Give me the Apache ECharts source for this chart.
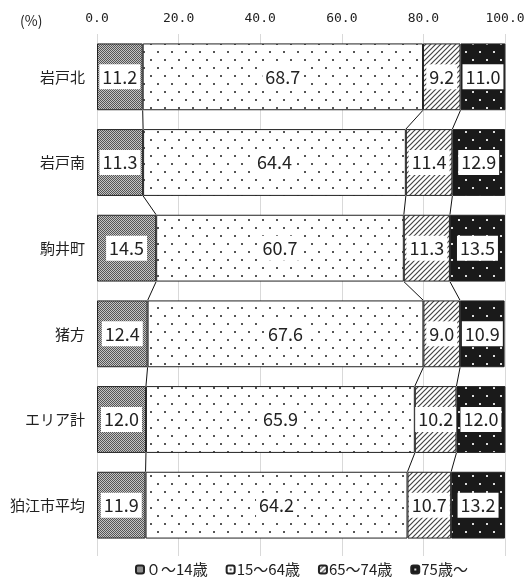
<!DOCTYPE html>
<html>
<head>
<meta charset="utf-8">
<script src="https://cdn.jsdelivr.net/npm/echarts@6/dist/echarts.min.js"></script>
<style>
  html, body { margin: 0; padding: 0; background: #fff; }
  #main { width: 524px; height: 588px; }
</style>
</head>
<body>
<div id="main"></div>
<script>
var areas = ['岩戸北', '岩戸南', '駒井町', '猪方', 'エリア計', '狛江市平均'];
var seriesNames = ['０～14歳', '15～64歳', '65～74歳', '75歳～'];
var age0to14 = [11.2, 11.3, 14.5, 12.4, 12.0, 11.9];
var age15to64 = [68.7, 64.4, 60.7, 67.6, 65.9, 64.2];
var age65to74 = [9.2, 11.4, 11.3, 9.0, 10.2, 10.7];
var age75plus = [11.0, 12.9, 13.5, 10.9, 12.0, 13.2];
var tickLabels = ['0.0', '20.0', '40.0', '60.0', '80.0', '100.0'];

var rows = [age0to14, age15to64, age65to74, age75plus];
var BAR_RATIO = 0.78;

// small canvas tiles for the hatch patterns
function tile(w, h, bg, draw) {
    var c = document.createElement('canvas');
    c.width = w; c.height = h;
    var ctx = c.getContext('2d');
    ctx.fillStyle = bg;
    ctx.fillRect(0, 0, w, h);
    draw(ctx);
    return { image: c, repeat: 'repeat' };
}

var patGrey = tile(2, 2, '#c4c4c4', function (ctx) {
    ctx.fillStyle = '#555';
    ctx.fillRect(0, 0, 1, 1);
    ctx.fillRect(1, 1, 1, 1);
});
var patDots = tile(14, 16, '#ffffff', function (ctx) {
    ctx.fillStyle = '#555';
    ctx.fillRect(3, 3, 2, 2);
    ctx.fillRect(10, 11, 2, 2);
});
var patHatch = tile(5, 5, '#ffffff', function (ctx) {
    ctx.strokeStyle = '#444';
    ctx.lineWidth = 1.2;
    ctx.beginPath();
    ctx.moveTo(-1, 6); ctx.lineTo(6, -1);
    ctx.moveTo(-1, 1); ctx.lineTo(1, -1);
    ctx.moveTo(4, 6); ctx.lineTo(6, 4);
    ctx.stroke();
});
var patBlack = tile(14, 16, '#1a1a1a', function (ctx) {
    ctx.fillStyle = '#ddd';
    ctx.fillRect(3, 3, 2, 2);
    ctx.fillRect(10, 11, 2, 2);
});
var patterns = [patGrey, patDots, patHatch, patBlack];

var chart = echarts.init(document.getElementById('main'));

var labelStyle = {
    show: true,
    position: 'inside',
    backgroundColor: '#fff',
    color: '#222',
    fontFamily: 'Noto Sans CJK JP',
    fontSize: 18,
    padding: [4, 3, 3, 3],
    formatter: function (p) { return p.value.toFixed(1); }
};

var series = rows.map(function (vals, k) {
    return {
        name: seriesNames[k],
        type: 'bar',
        stack: 'total',
        barWidth: (BAR_RATIO * 100) + '%',
        data: vals,
        itemStyle: { color: patterns[k], borderColor: '#222', borderWidth: 1 },
        label: labelStyle,
        emphasis: { disabled: true }
    };
});

// series lines joining the boundaries of neighbouring bars
series.push({
    type: 'custom',
    silent: true,
    data: areas.slice(0, -1).map(function (a, i) { return [0, i]; }),
    encode: { x: 0, y: 1 },
    renderItem: function (params, api) {
        var i = params.dataIndex;
        var half = api.size([0, 1])[1] * BAR_RATIO / 2;
        var kids = [];
        var cumA = 0, cumB = 0;
        for (var k = 0; k < 3; k++) {
            cumA += rows[k][i];
            cumB += rows[k][i + 1];
            var p1 = api.coord([cumA, i]);
            var p2 = api.coord([cumB, i + 1]);
            kids.push({
                type: 'line',
                shape: { x1: p1[0], y1: p1[1] + half, x2: p2[0], y2: p2[1] - half },
                style: { stroke: '#111', lineWidth: 1 }
            });
        }
        return { type: 'group', children: kids };
    },
    z: 3
});

var option = {
    backgroundColor: '#fff',
    animation: false,
    title: {
        text: '(%)',
        left: 15,
        top: 9,
        textStyle: { fontSize: 14, fontWeight: 'normal', color: '#222', fontFamily: 'Noto Sans CJK JP' }
    },
    legend: {
        bottom: 6,
        left: 130,
        data: seriesNames,
        itemWidth: 8,
        itemHeight: 8,
        itemGap: 18,
        textStyle: { fontSize: 15, color: '#222', fontFamily: 'Noto Sans CJK JP', padding: [0, 0, 0, -3] }
    },
    grid: { left: 97, right: 19, top: 34, bottom: 40, outerBoundsMode: 'none', containLabel: false },
    xAxis: [{
        type: 'value',
        position: 'top',
        min: 0,
        max: 100,
        interval: 20,
        axisLine: { show: false },
        axisTick: { show: false },
        splitLine: { show: true, lineStyle: { color: '#d9d9d9' } },
        axisLabel: {
            margin: 9,
            color: '#222',
            fontSize: 13,
            fontFamily: 'DejaVu Sans Mono',
            formatter: function (v) { return tickLabels[v / 20]; }
        }
    }, {
        type: 'value',
        position: 'bottom',
        min: 0,
        max: 100,
        interval: 20,
        axisLine: { show: false },
        axisTick: { show: true, length: 8, lineStyle: { color: '#d9d9d9' } },
        splitLine: { show: false },
        axisLabel: { show: false }
    }],
    yAxis: {
        type: 'category',
        inverse: true,
        data: areas,
        axisLine: { show: false },
        axisTick: { show: false },
        axisLabel: { margin: 12, color: '#222', fontSize: 15, fontFamily: 'Noto Sans CJK JP' }
    },
    series: series
};
chart.setOption(option);

window.onresize = function () {
    chart.resize();
};
</script>
</body>
</html>
